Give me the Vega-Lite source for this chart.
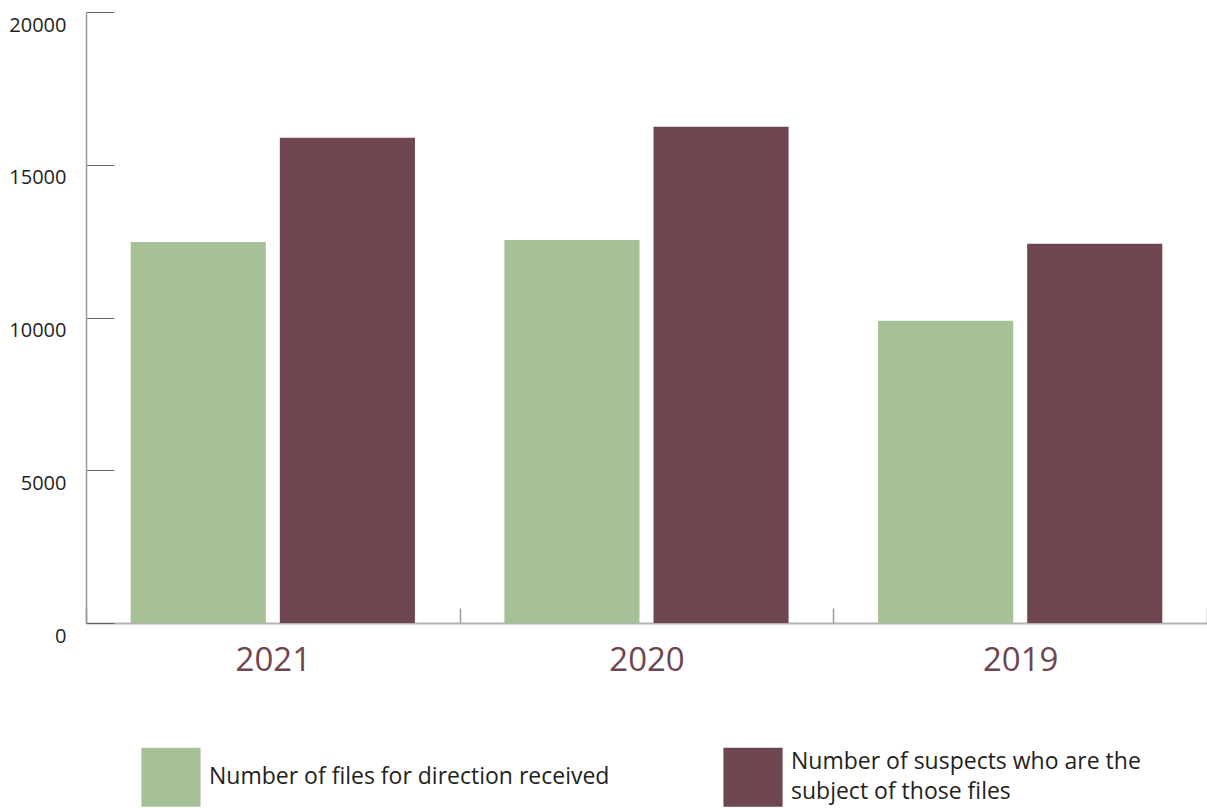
{
  "$schema": "https://vega.github.io/schema/vega-lite/v6.json",
  "width": 1121,
  "height": 611,
  "autosize": {"type": "none"},
  "padding": {"left": 86, "top": 12, "right": 0, "bottom": 185},
  "background": "white",
  "config": {"view": {"stroke": null}, "font": "Open Sans"},
  "data": {
    "values": [
      {"year": "2021", "series": "Number of files for direction received", "value": 12470},
      {"year": "2021", "series": "Number of suspects who are the subject of those files", "value": 15880},
      {"year": "2020", "series": "Number of files for direction received", "value": 12540},
      {"year": "2020", "series": "Number of suspects who are the subject of those files", "value": 16240},
      {"year": "2019", "series": "Number of files for direction received", "value": 9890},
      {"year": "2019", "series": "Number of suspects who are the subject of those files", "value": 12410}
    ]
  },
  "mark": {"type": "bar"},
  "encoding": {
    "x": {
      "field": "year",
      "type": "nominal",
      "sort": ["2021", "2020", "2019"],
      "scale": {"paddingInner": 0, "paddingOuter": 0},
      "axis": {
        "title": null,
        "labelAngle": 0,
        "labelFontSize": 33,
        "labelColor": "#6f4550",
        "labelPadding": 36,
        "tickBand": "extent",
        "tickSize": -15,
        "tickColor": "#999999",
        "tickWidth": 1.5,
        "domainColor": "#b3b3b3",
        "domainWidth": 2
      }
    },
    "xOffset": {
      "field": "series",
      "type": "nominal",
      "sort": ["Number of files for direction received", "Number of suspects who are the subject of those files"],
      "scale": {"paddingInner": 0.094, "paddingOuter": 0.3}
    },
    "y": {
      "field": "value",
      "type": "quantitative",
      "scale": {"domain": [0, 20000], "nice": false},
      "axis": {
        "title": null,
        "values": [0, 5000, 10000, 15000, 20000],
        "format": "d",
        "grid": false,
        "tickSize": -28,
        "tickColor": "#666666",
        "tickWidth": 1,
        "domainColor": "#999999",
        "domainWidth": 1.5,
        "labelFontSize": 20,
        "labelColor": "#231f20",
        "labelPadding": 48,
        "labelOffset": 13
      }
    },
    "color": {
      "field": "series",
      "type": "nominal",
      "scale": {
        "domain": ["Number of files for direction received", "Number of suspects who are the subject of those files"],
        "range": ["#a7c197", "#6f454f"]
      },
      "legend": {
        "title": null,
        "orient": "none",
        "legendX": 55,
        "legendY": 735,
        "direction": "horizontal",
        "columns": 2,
        "symbolType": "square",
        "symbolSize": 3500,
        "symbolStrokeWidth": 0,
        "symbolOpacity": 1,
        "labelFontSize": 23,
        "labelColor": "#231f20",
        "labelOffset": 8,
        "labelLimit": 600,
        "columnPadding": 113,
        "labelExpr": "datum.value == 'Number of suspects who are the subject of those files' ? ['Number of suspects who are the', 'subject of those files'] : datum.label",
        "encode": {
          "labels": {
            "update": {
              "lineHeight": {"value": 30},
              "dy": {"signal": "datum.value == 'Number of suspects who are the subject of those files' ? -15 : 0"}
            }
          }
        }
      }
    }
  }
}
